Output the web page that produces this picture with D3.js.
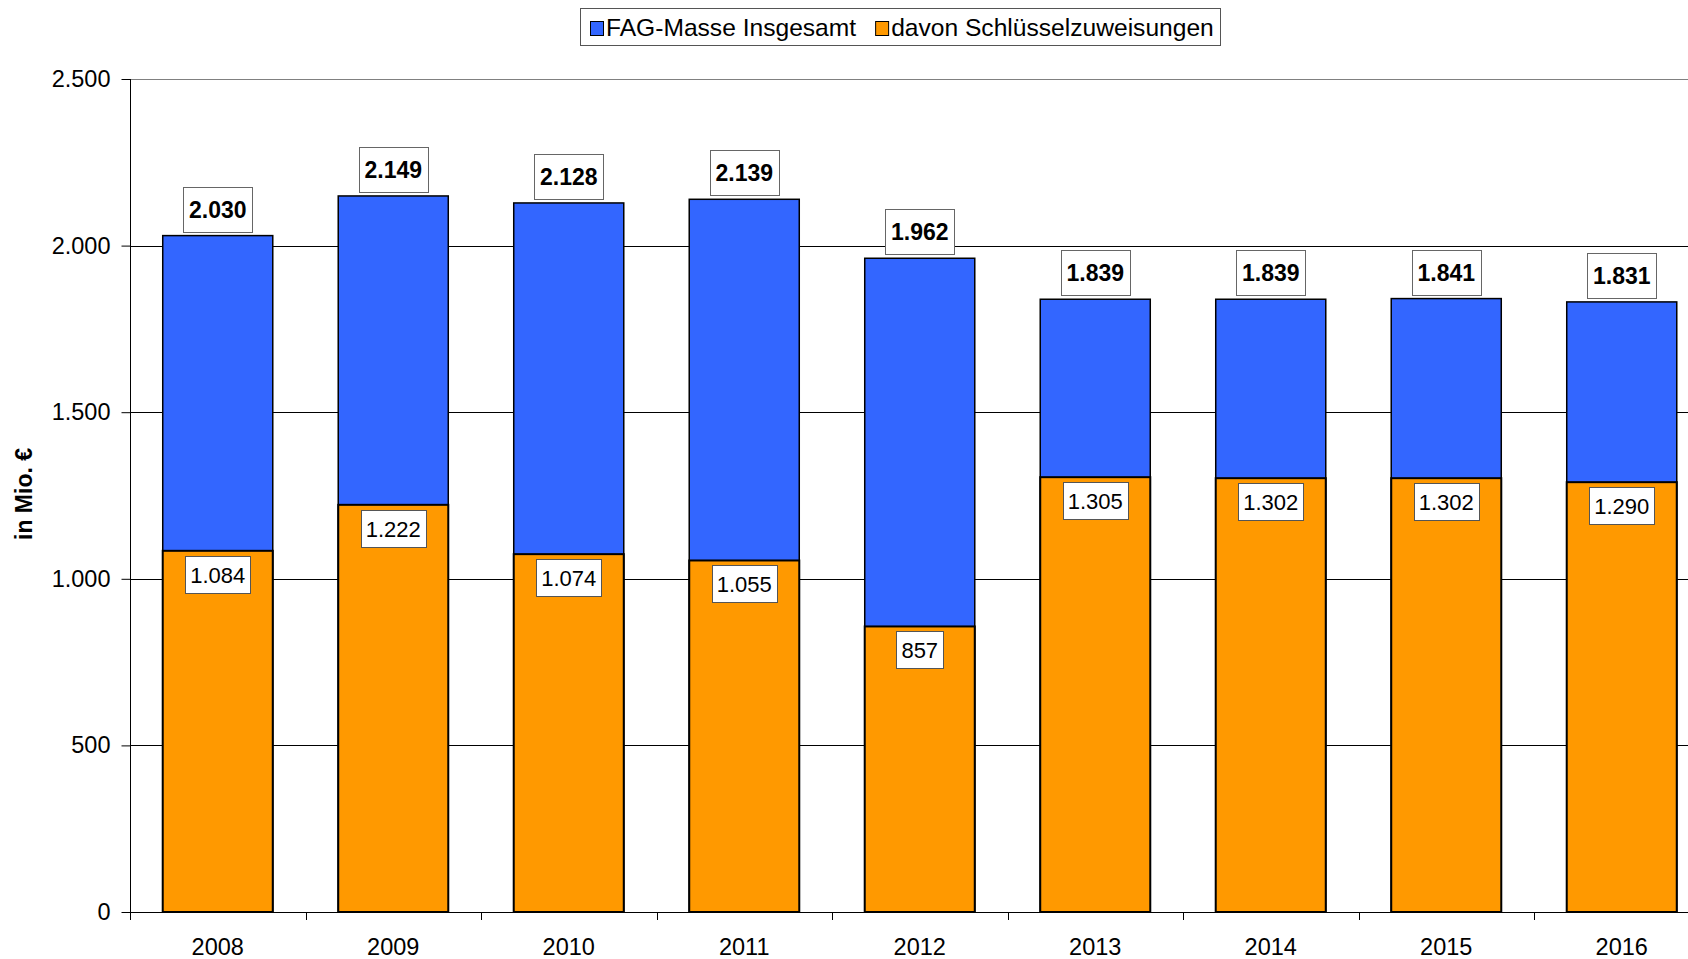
<!DOCTYPE html>
<html>
<head>
<meta charset="utf-8">
<script src="https://cdn.jsdelivr.net/npm/d3@7"></script>
<style>
  body { margin: 0; background: #fff; }
  svg { display: block; font-family: Arial, "Liberation Sans", sans-serif; }
</style>
</head>
<body>
<script>
var years = ["2008", "2009", "2010", "2011", "2012", "2013", "2014", "2015", "2016"];
var fagTotal = [2030, 2149, 2128, 2139, 1962, 1839, 1839, 1841, 1831];
var schluessel = [1084, 1222, 1074, 1055, 857, 1305, 1302, 1302, 1290];
var yTicks = [0, 500, 1000, 1500, 2000, 2500];
var seriesNames = ["FAG-Masse Insgesamt", "davon Schlüsselzuweisungen"];
var colors = ["#3366ff", "#ff9900"];

var width = 1688,
    height = 959;

var de = d3.formatLocale({decimal: ",", thousands: ".", grouping: [3], currency: ["", " €"]});
var fmt = de.format(",d");

var svg = d3.select("body")
        .append("svg")
        .attr("width", width)
        .attr("height", height);

var x = d3.scaleBand()
        .domain(years)
        .range([130, 1709.5])
        .paddingInner(0.373)
        .paddingOuter(0.1865);

var y = d3.scaleLinear()
        .domain([0, 2500])
        .range([912, 79]);

var rows = years.map(function (d, i) {
    return {year: d, total: fagTotal[i], part: schluessel[i]};
});

// gridlines
svg.append("g")
        .selectAll("line")
        .data(yTicks.filter(function (d) { return d > 0; }))
        .enter()
        .append("line")
        .attr("x1", 130)
        .attr("x2", width)
        .attr("y1", function (d) { return Math.round(y(d)) + 0.5; })
        .attr("y2", function (d) { return Math.round(y(d)) + 0.5; })
        .attr("stroke", function (d) { return d === 2500 ? "#808080" : "#000"; })
        .attr("stroke-width", 1);

// y axis
var yAxis = svg.append("g")
        .attr("transform", "translate(130.5,0)")
        .call(d3.axisLeft(y).tickValues(yTicks).tickFormat(fmt).tickSize(9).tickPadding(11));
yAxis.select(".domain").attr("d", "M0," + y(2500) + "V920");
yAxis.selectAll(".tick line").attr("stroke", "#000");
yAxis.selectAll("text")
        .attr("font-size", 23.5)
        .attr("fill", "#000")
        .attr("font-family", "Arial, 'Liberation Sans', sans-serif");

// x axis
var xAxis = svg.append("g")
        .attr("transform", "translate(0,912.5)")
        .call(d3.axisBottom(x).tickSize(0).tickPadding(26));
xAxis.select(".domain").attr("d", "M130," + 0 + "H" + width);
xAxis.selectAll("text")
        .attr("font-size", 23.5)
        .attr("fill", "#000")
        .attr("font-family", "Arial, 'Liberation Sans', sans-serif");
svg.append("g")
        .selectAll("line")
        .data(d3.range(years.length + 1))
        .enter()
        .append("line")
        .attr("x1", function (i) { return Math.round(130 + i * x.step()) + 0.5; })
        .attr("x2", function (i) { return Math.round(130 + i * x.step()) + 0.5; })
        .attr("y1", 912)
        .attr("y2", 920)
        .attr("stroke", "#000");

// y title
svg.append("text")
        .attr("transform", "translate(32,494) rotate(-90)")
        .attr("text-anchor", "middle")
        .attr("font-size", 23)
        .attr("font-weight", "bold")
        .text("in Mio. €");

// bars
var bars = svg.append("g");
bars.selectAll(".total")
        .data(rows)
        .enter()
        .append("rect")
        .attr("class", "total")
        .attr("x", function (d) { return x(d.year); })
        .attr("width", x.bandwidth())
        .attr("y", function (d) { return y(d.total); })
        .attr("height", function (d) { return y(0) - y(d.total); })
        .attr("fill", colors[0])
        .attr("stroke", "#000")
        .attr("stroke-width", 1.5);
bars.selectAll(".part")
        .data(rows)
        .enter()
        .append("rect")
        .attr("class", "part")
        .attr("x", function (d) { return x(d.year); })
        .attr("width", x.bandwidth())
        .attr("y", function (d) { return y(d.part); })
        .attr("height", function (d) { return y(0) - y(d.part); })
        .attr("fill", colors[1])
        .attr("stroke", "#000")
        .attr("stroke-width", 2);

// labels on top (totals)
var topLabels = svg.append("g")
        .selectAll("g")
        .data(rows)
        .enter()
        .append("g");
topLabels.append("rect");
topLabels.append("text")
        .attr("x", function (d) { return x(d.year) + x.bandwidth() / 2; })
        .attr("y", function (d) { return y(d.total) - 18; })
        .attr("text-anchor", "middle")
        .attr("font-size", 23)
        .attr("font-weight", "bold")
        .text(function (d) { return fmt(d.total); });
topLabels.each(function (d) {
    var g = d3.select(this);
    var w = g.select("text").node().getComputedTextLength() + 11;
    var cx = x(d.year) + x.bandwidth() / 2;
    g.select("rect")
            .attr("x", Math.round(cx - w / 2) + 0.5)
            .attr("y", Math.round(y(d.total) - 49) + 0.5)
            .attr("width", Math.round(w))
            .attr("height", 45)
            .attr("fill", "#fff")
            .attr("stroke", "#666");
});

// labels inside orange
var innerLabels = svg.append("g")
        .selectAll("g")
        .data(rows)
        .enter()
        .append("g");
innerLabels.append("rect");
innerLabels.append("text")
        .attr("x", function (d) { return x(d.year) + x.bandwidth() / 2; })
        .attr("y", function (d) { return y(d.part) + 32; })
        .attr("text-anchor", "middle")
        .attr("font-size", 22)
        .text(function (d) { return fmt(d.part); });
innerLabels.each(function (d) {
    var g = d3.select(this);
    var w = g.select("text").node().getComputedTextLength() + 10;
    var cx = x(d.year) + x.bandwidth() / 2;
    g.select("rect")
            .attr("x", Math.round(cx - w / 2) + 0.5)
            .attr("y", Math.round(y(d.part) + 5) + 0.5)
            .attr("width", Math.round(w))
            .attr("height", 37)
            .attr("fill", "#fff")
            .attr("stroke", "#555");
});

// legend
var legend = svg.append("g");
legend.append("rect")
        .attr("x", 580.5)
        .attr("y", 8.5)
        .attr("width", 640)
        .attr("height", 37)
        .attr("fill", "#fff")
        .attr("stroke", "#555");
var lx = 590;
seriesNames.forEach(function (name, i) {
    legend.append("rect")
            .attr("x", lx + 0.5)
            .attr("y", 21.5)
            .attr("width", 13)
            .attr("height", 14)
            .attr("fill", colors[i])
            .attr("stroke", "#000");
    var t = legend.append("text")
            .attr("x", lx + 16)
            .attr("y", 36)
            .attr("font-size", 24.6)
            .text(name);
    lx = lx + 16 + t.node().getComputedTextLength() + 19;
});
</script>
</body>
</html>
